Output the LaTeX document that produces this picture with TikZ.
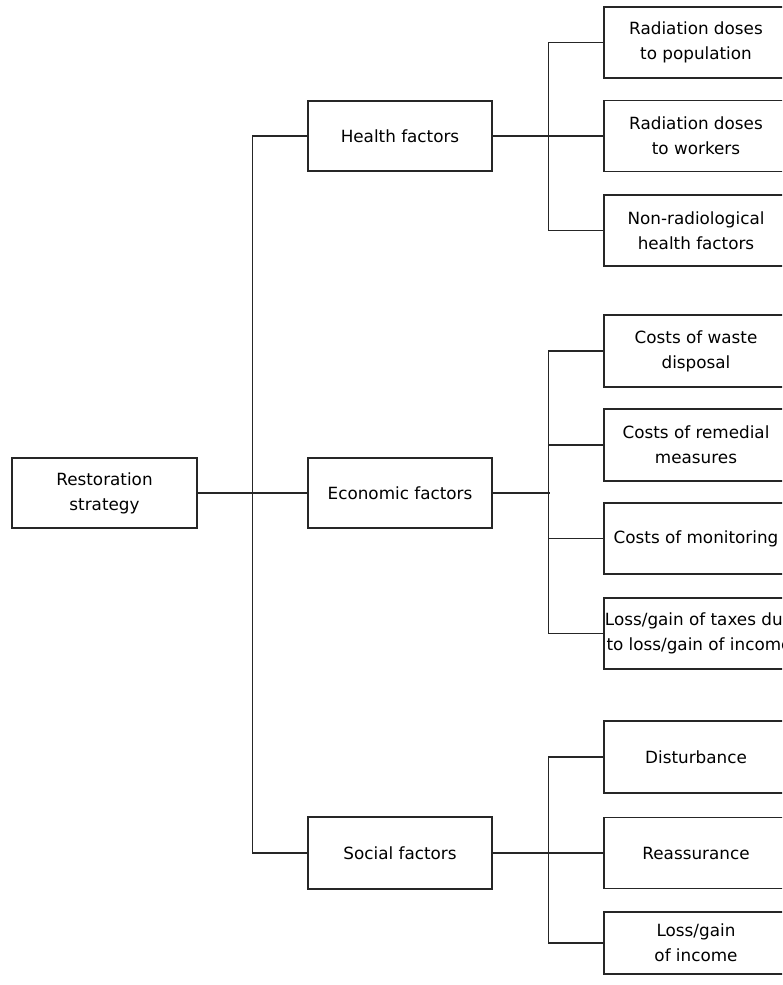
\documentclass[tikz,border=0pt]{standalone}
\usepackage{fontspec}
\setmainfont{DejaVu Sans}
\begin{document}
\begin{tikzpicture}[x=1pt,y=-1pt,
  box/.style={draw=black!85,line width=1.2pt,fill=white,minimum width=184pt,minimum height=71pt,
    inner sep=0pt,align=center,font=\fontsize{16.8}{25}\selectfont},
  conn/.style={draw=black!85,line width=1.2pt}]
\clip (0,0) rectangle (782,985);
\fill[white] (0,0) rectangle (782,985);
% level 0
\node[box,minimum width=185pt,minimum height=70pt] (root) at (104.5,493) {Restoration\\strategy};
% level 1
\node[box,minimum height=70pt] (health) at (400,136) {Health factors};
\node[box,minimum height=70pt] (econ) at (400,493) {Economic factors};
\node[box,minimum height=72pt] (social) at (400,853) {Social factors};
% level 2
\node[box] (rp) at (696,42.5) {Radiation doses\\to population};
\node[box] (rw) at (696,136) {Radiation doses\\to workers};
\node[box] (nr) at (696,230.5) {Non-radiological\\health factors};
\node[box,minimum height=72pt] (cw) at (696,351) {Costs of waste\\disposal};
\node[box,minimum height=72pt] (cr) at (696,445) {Costs of remedial\\measures};
\node[box] (cm) at (696,538.5) {Costs of monitoring};
\node[box] (lt) at (696,633.5) {\makebox[0pt]{\hspace{6pt}Loss/gain of taxes due}\\\makebox[0pt]{\hspace{6pt}to loss/gain of income}};
\node[box,minimum height=72pt] (di) at (696,757) {Disturbance};
\node[box] (re) at (696,853) {Reassurance};
\node[box,minimum height=62pt] (li) at (696,943) {Loss/gain\\of income};
% connectors level 0 -> 1
\draw[conn] (root.east) -- (econ.west);
\draw[conn] (health.west) -- ++(-55,0) |- (social.west);
% health
\draw[conn] (health.east) -- (rw.west);
\draw[conn] (rp.west) -- ++(-55,0) |- (nr.west);
% economic
\draw[conn] (cw.west) -- ++(-55,0) |- (lt.west);
\draw[conn] (cr.west) -- ++(-55,0);
\draw[conn] (cm.west) -- ++(-55,0);
\draw[conn] (econ.east) -- ++(57,0);
% social
\draw[conn] (di.west) -- ++(-55,0) |- (li.west);
\draw[conn] (social.east) -- (re.west);
\end{tikzpicture}
\end{document}
